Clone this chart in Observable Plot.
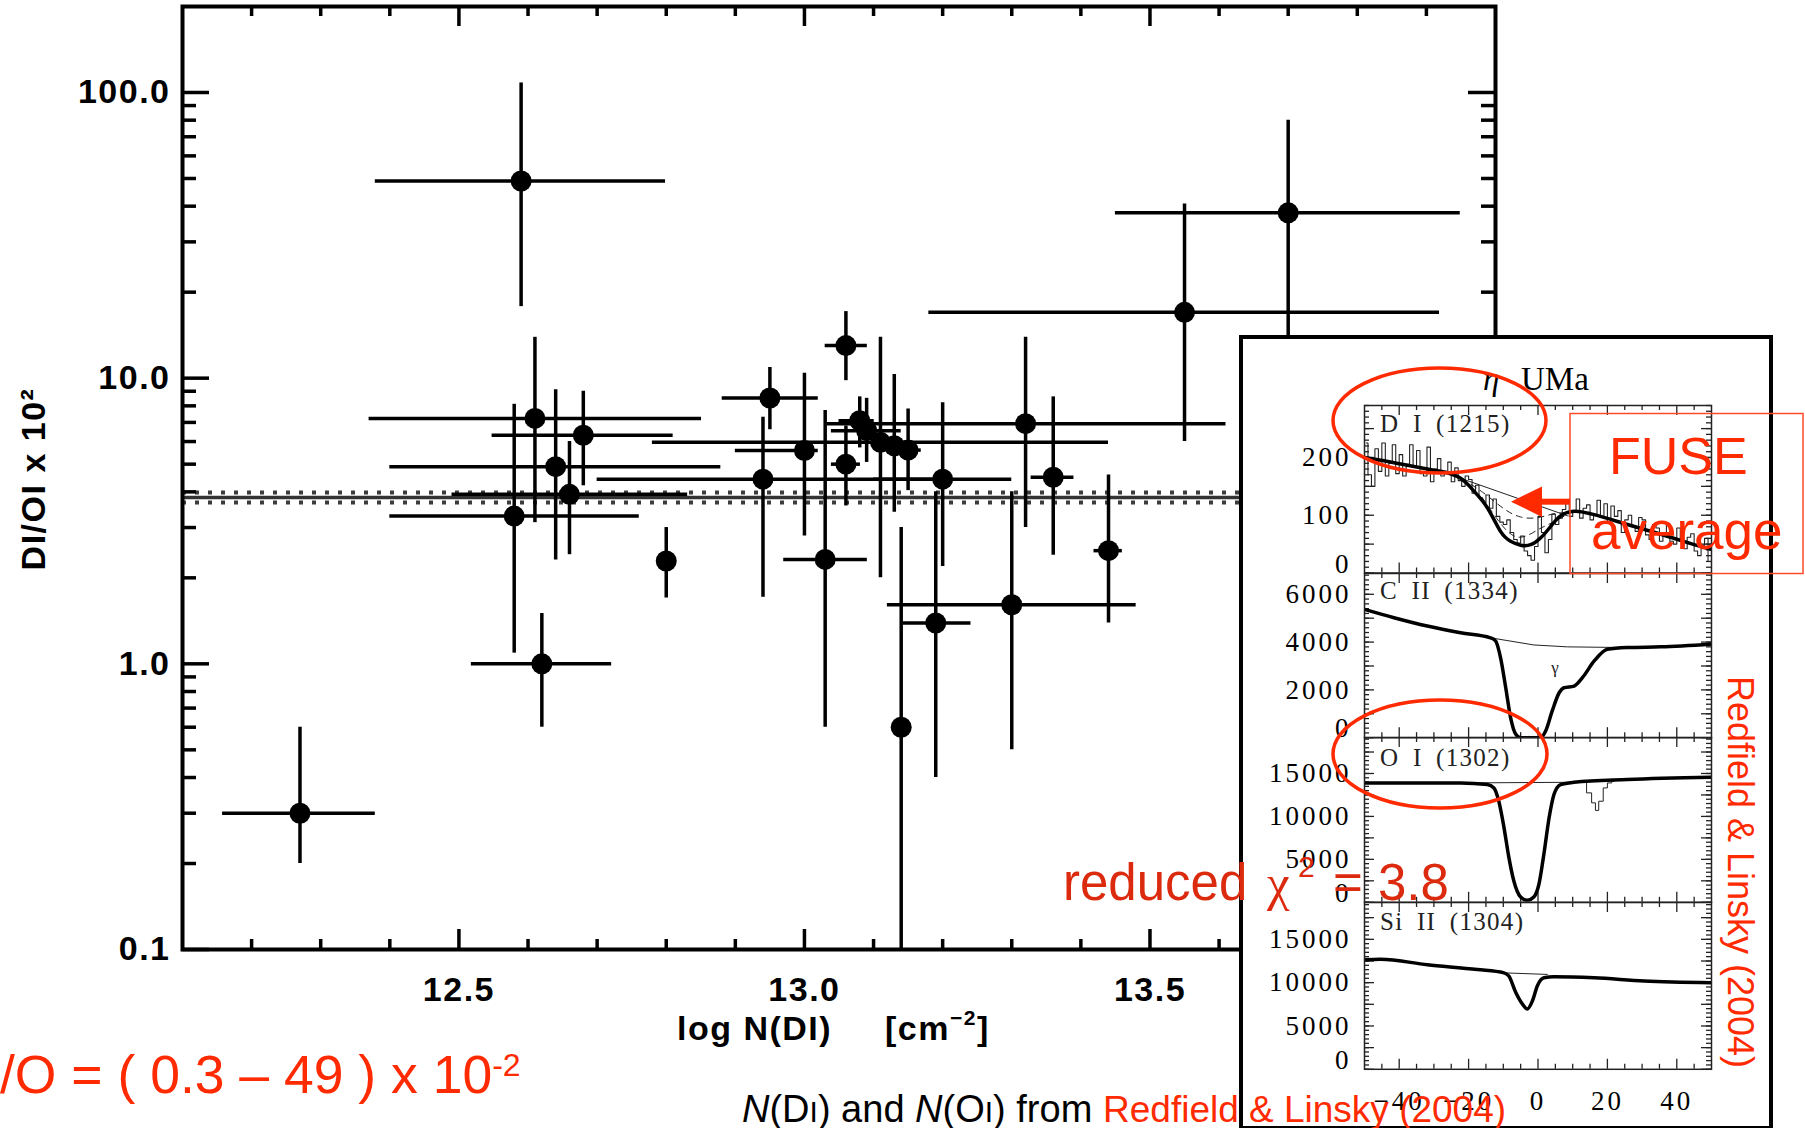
<!DOCTYPE html>
<html><head><meta charset="utf-8">
<script src="https://cdn.jsdelivr.net/npm/d3@7"></script>
<script src="https://cdn.jsdelivr.net/npm/@observablehq/plot@0.6"></script>
<style>
html,body{margin:0;padding:0;background:#fff;}
body{width:1805px;height:1128px;position:relative;overflow:hidden;}
.abs{position:absolute;}
#inset{position:absolute;left:1239px;top:335px;width:534px;height:795px;box-sizing:border-box;border:4px solid #000;background:#fff;}
#main svg text{letter-spacing:1.5px;}
.pan svg text{letter-spacing:3px;}
</style></head><body>
<div id="main" class="abs" style="left:0;top:0"></div>
<div id="inset"></div>
<div id="panels"></div>
<svg id="overlay" width="1805" height="1128" style="position:absolute;left:0;top:0;overflow:visible" font-family="Liberation Sans, Arial, sans-serif">
  <text transform="translate(45,479) rotate(-90)" text-anchor="middle" font-size="34" font-weight="bold" letter-spacing="1.5">DI/OI x 10²</text>
  <text x="677" y="1040" font-size="34" font-weight="bold" letter-spacing="1.5">log N(DI)<tspan x="885">[cm</tspan><tspan font-size="21" dy="-15">−2</tspan><tspan dy="15">]</tspan></text>
  <text x="1483" y="390" font-family="Liberation Serif" font-size="33" font-style="italic">η</text>
  <text x="1521" y="390" font-family="Liberation Serif" font-size="33">UMa</text>
  <g font-family="Liberation Serif" font-size="25" fill="#222" letter-spacing="1.3" word-spacing="6">
    <text x="1380" y="432">D I (1215)</text>
    <text x="1380" y="599">C II (1334)</text>
    <text x="1380" y="766">O I (1302)</text>
    <text x="1380" y="930">Si II (1304)</text>
  </g>
  <text x="1555" y="673" font-family="Liberation Serif" font-size="17" text-anchor="middle" fill="#222">γ</text>
  <g fill="none" stroke="#ff2a00" stroke-width="3.5">
    <ellipse cx="1439.5" cy="420.5" rx="106.5" ry="52.5"/>
    <ellipse cx="1440" cy="754" rx="107" ry="54"/>
  </g>
  <rect x="1570" y="413.5" width="233" height="160" fill="none" stroke="#ff4a2a" stroke-width="1.5"/>
  <line x1="1570" y1="501.7" x2="1538" y2="501.7" stroke="#ff2a00" stroke-width="6"/>
  <polygon points="1511,501.7 1542,486.5 1542,517" fill="#ff2a00"/>
  <text x="1609" y="474" font-size="52" fill="#ff2a00">FUSE</text>
  <text x="1591" y="549" font-size="53" fill="#ff2a00">average</text>
  <text y="900" font-size="51" fill="#dc2a0e"><tspan x="1063">reduced</tspan><tspan x="1267" font-family="Liberation Serif">χ</tspan><tspan x="1298" font-size="30" dy="-23">2</tspan><tspan x="1333" dy="23">=</tspan><tspan x="1378">3.8</tspan></text>
  <text transform="translate(1728,872) rotate(90)" text-anchor="middle" font-size="36" fill="#ff2a00">Redfield &amp; Linsky (2004)</text>
  <text x="742" y="1122" font-size="38" fill="#000"><tspan font-style="italic">N</tspan>(D<tspan font-size="30">I</tspan>) and <tspan font-style="italic">N</tspan>(O<tspan font-size="30">I</tspan>) from <tspan x="1103" font-size="37" fill="#ff2a00">Redfield &amp; Linsky (2004)</tspan></text>
  <text x="0" y="1093" font-size="53.5" fill="#ff2a00">/O = ( 0.3 – 49 ) x 10<tspan font-size="32" dy="-17">-2</tspan></text>
</svg>
<script>
// ---------------- main chart data ----------------
const logNDI   = [12.27,12.59,12.61,12.68,12.64,12.66,12.58,12.80,12.62,12.95,12.94,13.00,13.03,13.06,13.06,13.08,13.09,13.11,13.13,13.15,13.14,13.19,13.20,13.30,13.32,13.36,13.44,13.55,13.70];
const logNDIlo = [12.158,12.379,12.370,12.548,12.400,12.490,12.400,12.79,12.518,12.881,12.70,12.90,12.970,13.030,13.039,13.050,13.039,12.78,13.12,13.130,13.13,13.143,13.10,13.120,13.033,13.328,13.419,13.180,13.450];
const logNDIhi = [12.379,12.799,12.851,12.810,12.879,12.831,12.761,12.81,12.721,13.020,13.19,13.02,13.091,13.091,13.081,13.101,13.140,13.44,13.14,13.169,13.15,13.241,13.30,13.480,13.610,13.390,13.460,13.919,13.949];
const DOratio  = [0.30,49,7.23,6.31,4.90,3.92,3.29,2.29,1.0,8.52,4.43,5.58,2.32,13.0,5.0,7.1,6.55,5.96,5.80,5.6,0.6,1.39,4.43,1.61,6.93,4.50,2.49,17.0,37.9];
const DOlo     = [0.20,17.8,3.12,4.2,2.31,2.41,1.09,1.70,0.60,6.6,1.71,2.8,0.60,9.8,3.57,5.7,5.07,2.0,3.39,4.04,0.1,0.40,2.19,0.50,3.0,2.40,1.39,6.0,8];
const DOhi     = [0.60,108,13.9,9.0,9.1,6.0,8.1,3.0,1.50,10.9,7.3,10.4,7.7,17.1,6.8,8.6,8.5,13.9,10.3,7.8,3.0,4.0,8.2,4.0,13.9,8.6,4.58,40.7,80];
const avgDO = [3.82];
const avgDOband = [3.98, 3.67];
const xMajor = [12.5, 13.0, 13.5];
const xMajorLabels = ["12.5", "13.0", "13.5"];
const xMinor = [12.2,12.3,12.4,12.6,12.7,12.8,12.9,13.1,13.2,13.3,13.4,13.6,13.7,13.8,13.9];
const yMajor = [0.1, 1, 10, 100];
const yMajorLabels = ["0.1", "1.0", "10.0", "100.0"];
const yMinor = [0.2,0.3,0.4,0.5,0.6,0.7,0.8,0.9,2,3,4,5,6,7,8,9,20,30,40,50,60,70,80,90];

// ---------------- inset (spectra) data ----------------
const vMajor = [-40,-20,0,20,40];
const vMajorLabels = ["−40","−20","0","20","40"];
const vMinor = [-45,-35,-30,-25,-15,-10,-5,5,10,15,25,30,35,45];

const DI_v    = [-50,-41.5,-31.9,-27.1,-22.3,-18.5,-14.6,-10.8,-7.9,-5.0,-2.1,0.8,3.7,6.5,10.4,16.2,25.8,35.4,45,50];
const DI_fit  = [200,191,180,175,164,142,113,72,55,48,49,61,81,99,107,101,84,67,49,41];
const DI_cont_v = [-22.3, 8.5];
const DI_cont   = [164, 99];
const DI_compA_v = [-22,-16,-10,-5,0,5,9];
const DI_compA   = [163,140,112,97,96,103,104];
const DI_compB_v = [-16,-10,-5,0,3,8];
const DI_compB   = [130,80,62,75,84,100];
const DI_hist_v = [-49.5,-48.5,-47.5,-46.5,-45.5,-44.5,-43.5,-42.5,-41.5,-40.5,-39.5,-38.5,-37.5,-36.5,-35.5,-34.5,-33.5,-32.5,-31.5,-30.5,-29.5,-28.5,-27.5,-26.5,-25.5,-24.5,-23.5,-22.5,-21.5,-20.5,-19.5,-18.5,-17.5,-16.5,-15.5,-14.5,-13.5,-12.5,-11.5,-10.5,-9.5,-8.5,-7.5,-6.5,-5.5,-4.5,-3.5,-2.5,-1.5,-0.5,0.5,1.5,2.5,3.5,4.5,5.5,6.5,7.5,8.5,9.5,10.5,11.5,12.5,13.5,14.5,15.5,16.5,17.5,18.5,19.5,20.5,21.5,22.5,23.5,24.5,25.5,26.5,27.5,28.5,29.5,30.5,31.5,32.5,33.5,34.5,35.5,36.5,37.5,38.5,39.5,40.5,41.5,42.5,43.5,44.5,45.5,46.5,47.5,48.5,49.5];
const DI_hist   = [225,170,150,215,176,225,168,190,222,172,205,168,188,222,186,212,172,168,218,158,180,198,168,176,192,158,182,160,150,168,162,138,152,130,122,135,112,128,98,88,84,92,70,58,52,64,38,30,22,46,98,70,35,58,102,84,95,110,122,98,108,128,95,112,118,92,100,126,96,120,88,116,98,108,70,92,100,80,72,96,92,66,58,84,78,55,68,85,55,50,78,60,42,62,68,38,30,48,60,20];

const CII_v   = [-50,-41.5,-31.9,-22.3,-13.7,-12.2,-10.8,-9.3,-7.9,-6.4,-5,0.8,2.2,4.1,6.1,7.5,10.4,12.8,16.2,20,25.8,35.4,50];
const CII_val = [5370,5020,4670,4390,4180,4045,3350,2090,840,140,0,0,280,1120,1880,2090,2160,2510,3210,3700,3770,3800,3910];
const CII_cont_v = [-13.7,-1.2,8.5,25.8];
const CII_cont   = [4180,3880,3800,3770];

const OI_v   = [-50,-22.3,-14.6,-12.7,-11.3,-9.8,-8.4,-7.0,-5.0,-3.1,-1.2,0.3,1.7,3.2,4.6,6.5,10.4,25.8,50];
const OI_val = [13900,13900,13710,13320,11780,8700,5230,2540,610,230,610,2160,5620,9850,12550,13710,13975,14290,14550];
const OI_cont_v = [-22.3, 10.4];
const OI_cont   = [13900, 13975];
const OI_hist_v = [12,13.3,14.7,16.2,16.9,18.1,19.5,20.5,22];
const OI_hist   = [14000,14000,12740,11580,10700,11770,13320,13900,14100];

const SiII_v   = [-50,-45.4,-31.9,-17.5,-9.8,-8.4,-6.4,-4.5,-3.1,-1.6,-0.2,1.7,4.6,16.2,30.6,49.8];
const SiII_val = [12640,12700,12070,11510,11130,10760,8860,7530,6960,7910,9620,10560,10680,10560,10190,10000];
const SiII_cont_v = [-9.8, 2.7];
const SiII_cont   = [11130, 10950];

// ---------------- main chart ----------------
const rows = logNDI.map((x, i) => ({x, xlo: logNDIlo[i], xhi: logNDIhi[i], y: DOratio[i], ylo: DOlo[i], yhi: DOhi[i]}));
const W = 1805, H = 1128, mL = 182, mR = 310, mT = 6, mB = 179;
const iw = W - mL - mR, ih = H - mT - mB;
const xLab = new Map(xMajor.map((d, i) => [d, xMajorLabels[i]]));
const yLab = new Map(yMajor.map((d, i) => [d, yMajorLabels[i]]));
const axisFont = {fontSize: 34, fontWeight: "bold", fontFamily: "Liberation Sans, Arial, sans-serif"};

const main = Plot.plot({
  width: W, height: H,
  marginLeft: mL, marginRight: mR, marginTop: mT, marginBottom: mB,
  x: {domain: [12.1, 14.0]},
  y: {type: "log", domain: [0.1, 200]},
  style: {background: "transparent", overflow: "visible"},
  marks: [
    Plot.ruleY(avgDOband, {stroke: "#3c3c3c", strokeWidth: 4, strokeDasharray: "4,9"}),
    Plot.ruleY(avgDO, {stroke: "#333", strokeWidth: 3.5}),
    Plot.ruleX(rows, {x: "x", y1: "ylo", y2: "yhi", stroke: "#000", strokeWidth: 3.5}),
    Plot.ruleY(rows, {y: "y", x1: "xlo", x2: "xhi", stroke: "#000", strokeWidth: 3.5}),
    Plot.dot(rows, {x: "x", y: "y", r: 10.5, fill: "#000", stroke: null}),
    Plot.ruleX(xMajor, {insetTop: ih - 20, strokeWidth: 3.5}),
    Plot.ruleX(xMajor, {insetBottom: ih - 20, strokeWidth: 3.5}),
    Plot.ruleX(xMinor, {insetTop: ih - 10, strokeWidth: 3.5}),
    Plot.ruleX(xMinor, {insetBottom: ih - 10, strokeWidth: 3.5}),
    Plot.ruleY(yMajor, {insetRight: iw - 27, strokeWidth: 3.5}),
    Plot.ruleY(yMajor, {insetLeft: iw - 27, strokeWidth: 3.5}),
    Plot.ruleY(yMinor, {insetRight: iw - 14, strokeWidth: 3.5}),
    Plot.ruleY(yMinor, {insetLeft: iw - 14, strokeWidth: 3.5}),
    Plot.frame({stroke: "#000", strokeWidth: 4}),
    Plot.axisX({ticks: xMajor, tickSize: 0, tickPadding: 27, tickFormat: d => xLab.get(d), label: null, ...axisFont}),
    Plot.axisY({ticks: yMajor, tickSize: 0, tickPadding: 12, tickFormat: d => yLab.get(d), label: null, ...axisFont})
  ]
});
document.getElementById("main").appendChild(main);

// ---------------- inset panels ----------------
const vLab = new Map(vMajor.map((d, i) => [d, vMajorLabels[i]]));
const pts = (xs, ys) => xs.map((v, i) => ({v, c: ys[i]}));
const serif = "Liberation Serif, Times New Roman, serif";
const PW = 526, PL = 121, PR = 58, PIW = PW - PL - PR;

function panel(cfg) {
  const h = cfg.bottom - cfg.top;
  const eb = cfg.extraBottom || 0;
  const tk = {stroke: "#222", strokeWidth: 1.3};
  const marks = [
    Plot.ruleX(vMinor, {insetTop: h - 5, ...tk}),
    Plot.ruleX(vMinor, {insetBottom: h - 5, ...tk}),
    Plot.ruleX(vMajor, {insetTop: h - 10, ...tk}),
    Plot.ruleX(vMajor, {insetBottom: h - 10, ...tk}),
    Plot.ruleY(cfg.yMinor, {insetRight: PIW - 5, ...tk}),
    Plot.ruleY(cfg.yMinor, {insetLeft: PIW - 5, ...tk}),
    Plot.ruleY(cfg.yMajor, {insetRight: PIW - 10, ...tk}),
    Plot.ruleY(cfg.yMajor, {insetLeft: PIW - 10, ...tk}),
    ...cfg.lines,
    Plot.frame({stroke: "#222", strokeWidth: 1.5}),
    Plot.axisY({ticks: cfg.yLabels, tickSize: 0, tickPadding: 13, tickFormat: d => String(d), label: null, fontSize: 27, fontFamily: serif}),
    Plot.axisY({ticks: [0], tickSize: 0, tickPadding: 13, dy: -9, tickFormat: d => String(d), label: null, fontSize: 27, fontFamily: serif})
  ];
  if (cfg.xLabels) marks.push(Plot.axisX({ticks: vMajor, tickSize: 0, tickPadding: 22, tickFormat: d => vLab.get(d), label: null, fontSize: 27, fontFamily: serif}));
  const svg = Plot.plot({
    width: PW, height: h + eb,
    marginLeft: PL, marginRight: PR, marginTop: 0, marginBottom: eb,
    x: cfg.xLabels ? {domain: [-50, 50]} : {domain: [-50, 50], axis: null},
    y: {domain: cfg.domain},
    style: {background: "transparent", overflow: "visible"},
    marks
  });
  const d = document.createElement("div");
  d.className = "abs pan";
  d.style.left = "1243px";
  d.style.top = cfg.top + "px";
  d.appendChild(svg);
  document.getElementById("panels").appendChild(d);
}
const thick = {x: "v", y: "c", stroke: "#000", strokeWidth: 3.5, clip: true};
const thin = {x: "v", y: "c", stroke: "#222", strokeWidth: 1, clip: true};

panel({
  top: 405, bottom: 572.5, domain: [0, 290],
  yLabels: [100, 200], yMajor: [0,50,100,150,200,250], yMinor: d3.range(0, 291, 10),
  lines: [
    Plot.line(pts(DI_hist_v, DI_hist), {...thin, curve: "step", strokeWidth: 1.1}),
    Plot.line(pts(DI_cont_v, DI_cont), thin),
    Plot.line(pts(DI_compA_v, DI_compA), {...thin, curve: "natural", strokeDasharray: "6,5"}),
    Plot.line(pts(DI_compB_v, DI_compB), {...thin, curve: "natural", strokeDasharray: "6,5"}),
    Plot.line(pts(DI_v, DI_fit), {...thick, curve: "natural"})
  ]
});
panel({
  top: 572.5, bottom: 736.7, domain: [0, 6870],
  yLabels: [2000, 4000, 6000], yMajor: d3.range(0, 6870, 1000), yMinor: d3.range(0, 6870, 200),
  lines: [
    Plot.line(pts(CII_cont_v, CII_cont), thin),
    Plot.line(pts(CII_v, CII_val), {...thick, curve: "monotone-x"})
  ]
});
panel({
  top: 736.7, bottom: 901.5, domain: [0, 19190],
  yLabels: [5000, 10000, 15000], yMajor: d3.range(0, 19190, 2500), yMinor: d3.range(0, 19190, 500),
  lines: [
    Plot.line(pts(OI_cont_v, OI_cont), thin),
    Plot.line(pts(OI_hist_v, OI_hist), {...thin, curve: "step"}),
    Plot.line(pts(OI_v, OI_val), {...thick, curve: "monotone-x"})
  ]
});
panel({
  top: 901.5, bottom: 1068.3, domain: [0, 19250], extraBottom: 50, xLabels: true,
  yLabels: [5000, 10000, 15000], yMajor: d3.range(0, 19250, 2500), yMinor: d3.range(0, 19250, 500),
  lines: [
    Plot.line(pts(SiII_cont_v, SiII_cont), thin),
    Plot.line(pts(SiII_v, SiII_val), {...thick, curve: "monotone-x"})
  ]
});
// keep overlay on top
document.body.appendChild(document.getElementById("overlay"));
</script>
</body></html>
